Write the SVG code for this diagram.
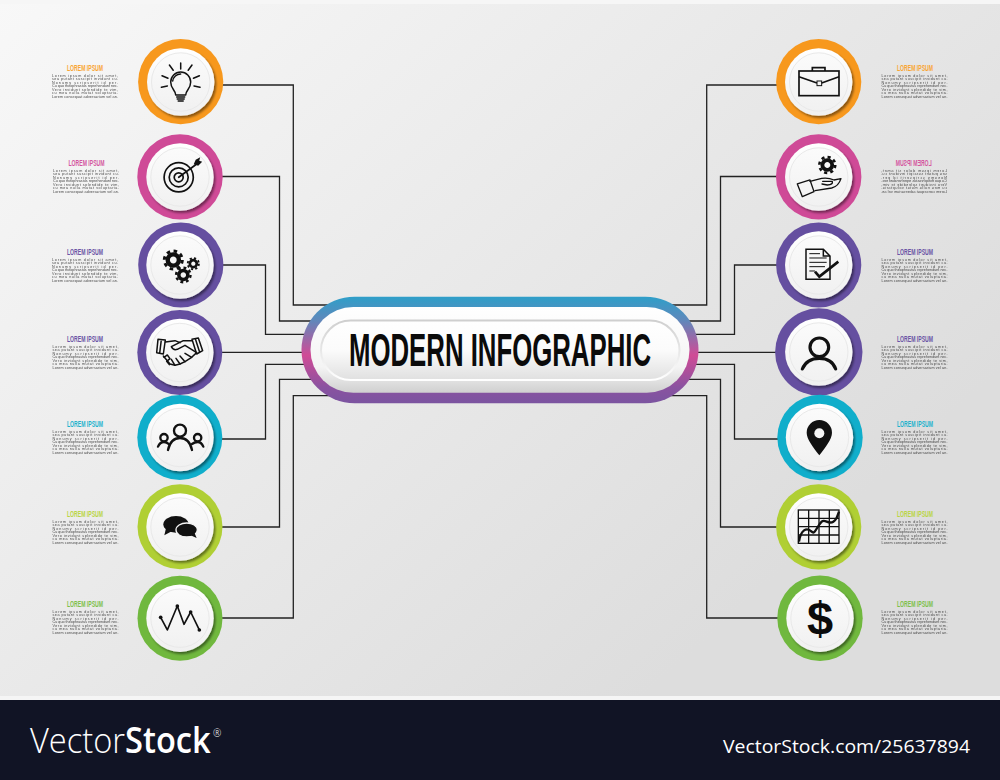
<svg xmlns="http://www.w3.org/2000/svg" width="1000" height="780" viewBox="0 0 1000 780">
<style>
.ln{fill:none;stroke:#222;stroke-width:1.300}
.t{font-family:"Liberation Sans",Arial,sans-serif;font-weight:700;font-size:8.400px}
.b{font-family:"Liberation Sans",Arial,sans-serif;font-size:3.700px;fill:#333;opacity:.92}
.o{fill:#f7981d}.p{fill:#cf4a97}.v{fill:#654fa0}.c{fill:#10aecb}.l{fill:#b0cf34}.g{fill:#70b83e}
.to{fill:#f9a533}.tp{fill:#d4569f}.tv{fill:#6a55a5}.tc{fill:#1eb3cd}.tl{fill:#b9d544}.tg{fill:#7cc04a}
.disk{fill:url(#disk);filter:url(#sh)}
.ring{fill:url(#face);stroke:#e9e9e9;stroke-width:1}
.i{fill:none;stroke:#111;stroke-width:4.500;stroke-linecap:round;stroke-linejoin:round}
.f{fill:#111;stroke:none}
</style>
<defs>
<linearGradient id="bg" gradientUnits="userSpaceOnUse" x1="0" y1="0" x2="640" y2="700"><stop offset="0" stop-color="#f8f8f8"/><stop offset="1" stop-color="#dddddd"/></linearGradient>
<linearGradient id="disk" x1="0" y1="0" x2="0" y2="1"><stop offset="0" stop-color="#ffffff"/><stop offset="1" stop-color="#f0f0f0"/></linearGradient>
<linearGradient id="face" x1="0" y1="0" x2="0" y2="1"><stop offset="0" stop-color="#fbfbfb"/><stop offset="1" stop-color="#f1f1f1"/></linearGradient>
<linearGradient id="pill" x1="0" y1="0" x2="0" y2="1"><stop offset="0" stop-color="#2e9fc9"/><stop offset="0.22" stop-color="#5f88bb"/><stop offset="0.55" stop-color="#d04b96"/><stop offset="0.85" stop-color="#8a52a0"/><stop offset="1" stop-color="#7b54a0"/></linearGradient>
<linearGradient id="pw" x1="0" y1="0" x2="0" y2="1"><stop offset="0" stop-color="#ffffff"/><stop offset="0.7" stop-color="#f4f4f4"/><stop offset="1" stop-color="#d0d0d0"/></linearGradient>
<linearGradient id="pi" x1="0" y1="0" x2="0" y2="1"><stop offset="0" stop-color="#ffffff"/><stop offset="0.5" stop-color="#fbfbfb"/><stop offset="1" stop-color="#e0e0e0"/></linearGradient>
<linearGradient id="pr" x1="0" y1="0" x2="0" y2="1"><stop offset="0" stop-color="#cfcfcf"/><stop offset="1" stop-color="#ffffff"/></linearGradient>
<filter id="sh" x="-20%" y="-20%" width="150%" height="150%"><feDropShadow dx="1.800" dy="2.200" stdDeviation="0.900" flood-color="#000" flood-opacity=".45"/></filter>
<g id="gear"><circle r="9" fill="none" stroke="#111" stroke-width="3" stroke-dasharray="3.530 3.540"/><circle r="5.600" fill="none" stroke="#111" stroke-width="4.400"/></g>
</defs>
<rect width="1000" height="700" fill="url(#bg)"/>
<rect width="1000" height="4" fill="#f6f6f6"/>
<rect y="696" width="1000" height="4" fill="#f5f5f5"/>
<rect y="700" width="1000" height="80" fill="#111425"/>

<g id="connectors">
<path class="ln" d="M222 85H293.300V305H330"/>
<path class="ln" d="M222 176.500H279.500V321H315"/>
<path class="ln" d="M222 265H265.500V334.300H310"/>
<path class="ln" d="M222 352.300H305"/>
<path class="ln" d="M222 439H265.500V364.300H310"/>
<path class="ln" d="M222 527H279.500V379.300H315"/>
<path class="ln" d="M222 618H293.300V395.700H330"/>
<path class="ln" d="M778 85H706.700V305H670"/>
<path class="ln" d="M778 176.500H720.500V321H685"/>
<path class="ln" d="M778 265H734.500V334.300H690"/>
<path class="ln" d="M778 352.300H695"/>
<path class="ln" d="M778 439H734.500V364.300H690"/>
<path class="ln" d="M778 527H720.500V379.300H685"/>
<path class="ln" d="M778 618H706.700V395.700H670"/>
</g>

<g id="center">
<rect x="301.500" y="296.700" width="397" height="106.500" rx="53.200" fill="url(#pill)"/>
<rect x="310.500" y="307" width="379" height="85.700" rx="42.800" fill="url(#pw)"/>
<rect x="321" y="320.500" width="358.500" height="59.500" rx="29.700" fill="url(#pi)" stroke="url(#pr)" stroke-width="2"/>
<text x="349" y="366.200" textLength="302" lengthAdjust="spacingAndGlyphs" font-family="'Liberation Sans',Arial,sans-serif" font-weight="700" font-size="45.500" fill="#0b0b0b">MODERN INFOGRAPHIC</text>
</g>

<g id="node-l1">
<circle class="o" cx="180.700" cy="81.700" r="42.600"/><circle class="disk" cx="180.700" cy="82" r="33.700"/><circle class="ring" cx="180.700" cy="82" r="29.200"/>
<g class="i" transform="translate(180.700,82)" style="stroke-width:1.500">
<path d="M-5 13C-5 8-10 7-10 0a10 10 0 1 1 20 0C10 7 5 8 5 13Z"/><path d="M-8 -1a8 8 0 0 1 8-7"/>
<path d="M-4 15H4M-3.500 17H3.500M-2.500 19H2.500M0 -19V-13M-11.300 -17L-7.500 -11.700M11.300 -17L7.500 -11.700M-18.700 -6.300L-12.700 -3.700M18.700 -6.300L12.700 -3.700M-19.300 5.300L-13.300 4M19.300 5.300L13.300 4"/>
</g>
<text class="t to" x="67" y="71" textLength="36" lengthAdjust="spacingAndGlyphs">LOREM IPSUM</text>
<text class="b" y="76.600"><tspan x="52" textLength="66">Lorem ipsum dolor sit amet,</tspan><tspan x="52" dy="3.550" textLength="66">sea putant suscipit invidunt cu.</tspan><tspan x="52" dy="3.550" textLength="66">Nonumy scripserit id per.</tspan><tspan x="52" dy="3.550" textLength="66">Cu quo theophrastus reprehendunt nec.</tspan><tspan x="52" dy="3.550" textLength="66">Vero invidunt splendide te vim,</tspan><tspan x="52" dy="3.550" textLength="66">cu mea nulla mutat voluptaria.</tspan><tspan x="52" dy="3.550" textLength="66">Lorem consequat adversarium vel an.</tspan></text>
</g>

<g id="node-l2">
<circle class="p" cx="180" cy="176.900" r="42.700"/><circle class="disk" cx="180" cy="177" r="33.700"/><circle class="ring" cx="180" cy="177" r="29.200"/>
<g class="i" transform="translate(178.700,177.300)" style="stroke-width:1.700">
<circle r="14.600"/><circle r="9.500"/><circle r="4.500"/><path d="M0 0L17 -12.500"/>
<path class="f" d="M15 -13L17 -17.500L21.500 -20L20.500 -16.500L23.500 -15.500L19.500 -11.500Z"/>
</g>
<text class="t tp" x="68.500" y="166" textLength="36" lengthAdjust="spacingAndGlyphs">LOREM IPSUM</text>
<text class="b" y="171.600"><tspan x="53" textLength="66">Lorem ipsum dolor sit amet,</tspan><tspan x="53" dy="3.550" textLength="66">sea putant suscipit invidunt cu.</tspan><tspan x="53" dy="3.550" textLength="66">Nonumy scripserit id per.</tspan><tspan x="53" dy="3.550" textLength="66">Cu quo theophrastus reprehendunt nec.</tspan><tspan x="53" dy="3.550" textLength="66">Vero invidunt splendide te vim,</tspan><tspan x="53" dy="3.550" textLength="66">cu mea nulla mutat voluptaria.</tspan><tspan x="53" dy="3.550" textLength="66">Lorem consequat adversarium vel an.</tspan></text>
</g>

<g id="node-l3">
<circle class="v" cx="180.800" cy="265" r="42.600"/><circle class="disk" cx="180" cy="265" r="33.700"/><circle class="ring" cx="180" cy="265" r="29.200"/>
<use href="#gear" transform="translate(173.300,260)"/>
<use href="#gear" transform="translate(193.300,263.700) scale(.62)"/>
<use href="#gear" transform="translate(183.300,275) scale(.8)"/>
<text class="t tv" x="67" y="255" textLength="36" lengthAdjust="spacingAndGlyphs">LOREM IPSUM</text>
<text class="b" y="260.600"><tspan x="52" textLength="66">Lorem ipsum dolor sit amet,</tspan><tspan x="52" dy="3.550" textLength="66">sea putant suscipit invidunt cu.</tspan><tspan x="52" dy="3.550" textLength="66">Nonumy scripserit id per.</tspan><tspan x="52" dy="3.550" textLength="66">Cu quo theophrastus reprehendunt nec.</tspan><tspan x="52" dy="3.550" textLength="66">Vero invidunt splendide te vim,</tspan><tspan x="52" dy="3.550" textLength="66">cu mea nulla mutat voluptaria.</tspan><tspan x="52" dy="3.550" textLength="66">Lorem consequat adversarium vel an.</tspan></text>
</g>

<g id="node-l4">
<circle class="v" cx="179.800" cy="352.500" r="42.500"/><circle class="disk" cx="179.800" cy="352.500" r="33.700"/><circle class="ring" cx="179.800" cy="352.500" r="29.200"/>
<g class="i" transform="translate(130,220) scale(.3333)">
<path d="M84 358L106 360L100 402L80 398ZM94 359L89 400M186 358L205 354L218 392L200 402ZM196 356L209 397"/>
<path d="M106 366L135 362L150 368M186 362L160 362L124 380Q130 392 142 388L165 376L200 398L185 412L165 425L150 432L135 436L120 432L100 408"/>
<path d="M165 400L185 412M150 408L165 425M138 415L150 432M124 418L135 436M102 412L112 405L120 416L110 424L118 434"/>
</g>
<text class="t tv" x="67" y="342" textLength="36" lengthAdjust="spacingAndGlyphs">LOREM IPSUM</text>
<text class="b" y="347.600"><tspan x="52.500" textLength="66">Lorem ipsum dolor sit amet,</tspan><tspan x="52.500" dy="3.550" textLength="66">sea putant suscipit invidunt cu.</tspan><tspan x="52.500" dy="3.550" textLength="66">Nonumy scripserit id per.</tspan><tspan x="52.500" dy="3.550" textLength="66">Cu quo theophrastus reprehendunt nec.</tspan><tspan x="52.500" dy="3.550" textLength="66">Vero invidunt splendide te vim,</tspan><tspan x="52.500" dy="3.550" textLength="66">cu mea nulla mutat voluptaria.</tspan><tspan x="52.500" dy="3.550" textLength="66">Lorem consequat adversarium vel an.</tspan></text>
</g>

<g id="node-l5">
<circle class="c" cx="179.800" cy="437.500" r="42.500"/><circle class="disk" cx="180" cy="437.500" r="33.700"/><circle class="ring" cx="180" cy="437.500" r="29.200"/>
<g class="i" transform="translate(130,220) scale(.3333)" style="stroke-width:7">
<circle cx="150" cy="632" r="18"/><path d="M114 690Q122 654 150 654Q178 654 186 690"/>
<circle cx="102" cy="653" r="11"/><path d="M84 680Q90 666 102 666Q110 666 116 672"/>
<circle cx="203" cy="653" r="11"/><path d="M220 680Q214 666 203 666Q194 666 186 672"/>
</g>
<text class="t tc" x="67" y="427" textLength="36" lengthAdjust="spacingAndGlyphs">LOREM IPSUM</text>
<text class="b" y="432.600"><tspan x="52.500" textLength="66">Lorem ipsum dolor sit amet,</tspan><tspan x="52.500" dy="3.550" textLength="66">sea putant suscipit invidunt cu.</tspan><tspan x="52.500" dy="3.550" textLength="66">Nonumy scripserit id per.</tspan><tspan x="52.500" dy="3.550" textLength="66">Cu quo theophrastus reprehendunt nec.</tspan><tspan x="52.500" dy="3.550" textLength="66">Vero invidunt splendide te vim,</tspan><tspan x="52.500" dy="3.550" textLength="66">cu mea nulla mutat voluptaria.</tspan><tspan x="52.500" dy="3.550" textLength="66">Lorem consequat adversarium vel an.</tspan></text>
</g>

<g id="node-l6">
<circle class="l" cx="180" cy="526.800" r="42.500"/><circle class="disk" cx="180" cy="527" r="33.700"/><circle class="ring" cx="180" cy="527" r="29.200"/>
<g transform="translate(130,480) scale(.3333)">
<ellipse class="f" cx="138" cy="133" rx="38" ry="25"/><path class="f" d="M108 145L103 166L128 152Z"/>
<ellipse class="f" cx="170" cy="150" rx="32" ry="21" style="stroke:#f4f4f4;stroke-width:4"/><path class="f" d="M180 165L200 174L192 155Z"/>
</g>
<text class="t tl" x="67" y="517" textLength="36" lengthAdjust="spacingAndGlyphs">LOREM IPSUM</text>
<text class="b" y="522.600"><tspan x="52.500" textLength="66">Lorem ipsum dolor sit amet,</tspan><tspan x="52.500" dy="3.550" textLength="66">sea putant suscipit invidunt cu.</tspan><tspan x="52.500" dy="3.550" textLength="66">Nonumy scripserit id per.</tspan><tspan x="52.500" dy="3.550" textLength="66">Cu quo theophrastus reprehendunt nec.</tspan><tspan x="52.500" dy="3.550" textLength="66">Vero invidunt splendide te vim,</tspan><tspan x="52.500" dy="3.550" textLength="66">cu mea nulla mutat voluptaria.</tspan><tspan x="52.500" dy="3.550" textLength="66">Lorem consequat adversarium vel an.</tspan></text>
</g>

<g id="node-l7">
<circle class="g" cx="180" cy="618.200" r="42.500"/><circle class="disk" cx="180" cy="618.200" r="33.700"/><circle class="ring" cx="180" cy="618.200" r="29.200"/>
<g transform="translate(130,480) scale(.3333)">
<path class="i" d="M92 412L112 450L142 378L162 433L182 396L208 450" style="stroke-width:5"/>
<circle class="f" cx="92" cy="412" r="5.500"/><circle class="f" cx="142" cy="378" r="5.500"/><circle class="f" cx="182" cy="396" r="5.500"/><circle class="f" cx="208" cy="450" r="5.500"/>
</g>
<text class="t tg" x="67" y="607" textLength="36" lengthAdjust="spacingAndGlyphs">LOREM IPSUM</text>
<text class="b" y="612.600"><tspan x="52.500" textLength="66">Lorem ipsum dolor sit amet,</tspan><tspan x="52.500" dy="3.550" textLength="66">sea putant suscipit invidunt cu.</tspan><tspan x="52.500" dy="3.550" textLength="66">Nonumy scripserit id per.</tspan><tspan x="52.500" dy="3.550" textLength="66">Cu quo theophrastus reprehendunt nec.</tspan><tspan x="52.500" dy="3.550" textLength="66">Vero invidunt splendide te vim,</tspan><tspan x="52.500" dy="3.550" textLength="66">cu mea nulla mutat voluptaria.</tspan><tspan x="52.500" dy="3.550" textLength="66">Lorem consequat adversarium vel an.</tspan></text>
</g>

<g id="node-r1">
<circle class="o" cx="818.700" cy="81.700" r="42.600"/><circle class="disk" cx="818.700" cy="82" r="33.700"/><circle class="ring" cx="818.700" cy="82" r="29.200"/>
<g class="i" transform="translate(770,30) scale(.3333)" style="stroke-width:5;stroke-linecap:butt;stroke-linejoin:miter">
<rect x="87" y="123" width="120" height="74"/><path d="M127 123V113H165V123M87 140L141 159M155 159L207 140"/><rect x="141" y="153" width="14" height="14" style="stroke-width:3"/>
</g>
<text class="t to" x="897" y="71" textLength="36" lengthAdjust="spacingAndGlyphs">LOREM IPSUM</text>
<text class="b" y="76.600"><tspan x="881.500" textLength="66">Lorem ipsum dolor sit amet,</tspan><tspan x="881.500" dy="3.550" textLength="66">sea putant suscipit invidunt cu.</tspan><tspan x="881.500" dy="3.550" textLength="66">Nonumy scripserit id per.</tspan><tspan x="881.500" dy="3.550" textLength="66">Cu quo theophrastus reprehendunt nec.</tspan><tspan x="881.500" dy="3.550" textLength="66">Vero invidunt splendide te vim,</tspan><tspan x="881.500" dy="3.550" textLength="66">cu mea nulla mutat voluptaria.</tspan><tspan x="881.500" dy="3.550" textLength="66">Lorem consequat adversarium vel an.</tspan></text>
</g>

<g id="node-r2">
<circle class="p" cx="818.700" cy="176.900" r="42.700"/><circle class="disk" cx="818.700" cy="177" r="33.700"/><circle class="ring" cx="818.700" cy="177" r="29.200"/>
<use href="#gear" transform="translate(827.300,165) scale(.88)"/>
<g class="i" transform="translate(770,30) scale(.3333)" style="stroke-width:4">
<path d="M82 462L120 450L132 485L97 500Z"/>
<path d="M120 454L155 445Q175 442 192 450L213 446Q205 470 185 474L135 482M158 454H187Q190 464 172 465L156 462"/>
</g>
<g transform="translate(1813,0) scale(-1,1)">
<text class="t tp" x="881.300" y="166" textLength="36" lengthAdjust="spacingAndGlyphs">LOREM IPSUM</text>
<text class="b" y="171.600"><tspan x="866" textLength="66">Lorem ipsum dolor sit amet,</tspan><tspan x="866" dy="3.550" textLength="66">sea putant suscipit invidunt cu.</tspan><tspan x="866" dy="3.550" textLength="66">Nonumy scripserit id per.</tspan><tspan x="866" dy="3.550" textLength="66">Cu quo theophrastus reprehendunt nec.</tspan><tspan x="866" dy="3.550" textLength="66">Vero invidunt splendide te vim,</tspan><tspan x="866" dy="3.550" textLength="66">cu mea nulla mutat voluptaria.</tspan><tspan x="866" dy="3.550" textLength="66">Lorem consequat adversarium vel an.</tspan></text>
</g>
</g>

<g id="node-r3">
<circle class="v" cx="818.700" cy="265" r="42.600"/><circle class="disk" cx="818.700" cy="265" r="33.700"/><circle class="ring" cx="818.700" cy="265" r="29.200"/>
<g class="i" transform="translate(770,220) scale(.3333)" style="stroke-linecap:butt;stroke-linejoin:miter">
<path d="M108 88H160L180 108V178H108Z"/><path d="M160 88V108H180"/>
<path d="M118 101H150M118 114H170M118 127H170M118 140H165M118 153H135" style="stroke-width:3"/>
<path d="M135 155L148 170L205 125" style="stroke-width:8"/>
</g>
<text class="t tv" x="897" y="255" textLength="36" lengthAdjust="spacingAndGlyphs">LOREM IPSUM</text>
<text class="b" y="260.600"><tspan x="881.500" textLength="66">Lorem ipsum dolor sit amet,</tspan><tspan x="881.500" dy="3.550" textLength="66">sea putant suscipit invidunt cu.</tspan><tspan x="881.500" dy="3.550" textLength="66">Nonumy scripserit id per.</tspan><tspan x="881.500" dy="3.550" textLength="66">Cu quo theophrastus reprehendunt nec.</tspan><tspan x="881.500" dy="3.550" textLength="66">Vero invidunt splendide te vim,</tspan><tspan x="881.500" dy="3.550" textLength="66">cu mea nulla mutat voluptaria.</tspan><tspan x="881.500" dy="3.550" textLength="66">Lorem consequat adversarium vel an.</tspan></text>
</g>

<g id="node-r4">
<circle class="v" cx="818.800" cy="352" r="43.700"/><circle class="disk" cx="818.800" cy="352" r="33.700"/><circle class="ring" cx="818.800" cy="352" r="29.200"/>
<g class="i" transform="translate(770,220) scale(.3333)" style="stroke-width:9.500">
<circle cx="148" cy="382" r="28"/><path d="M97 447Q110 415 148 415Q186 415 197 447"/>
</g>
<text class="t tv" x="897" y="342" textLength="36" lengthAdjust="spacingAndGlyphs">LOREM IPSUM</text>
<text class="b" y="347.600"><tspan x="881.500" textLength="66">Lorem ipsum dolor sit amet,</tspan><tspan x="881.500" dy="3.550" textLength="66">sea putant suscipit invidunt cu.</tspan><tspan x="881.500" dy="3.550" textLength="66">Nonumy scripserit id per.</tspan><tspan x="881.500" dy="3.550" textLength="66">Cu quo theophrastus reprehendunt nec.</tspan><tspan x="881.500" dy="3.550" textLength="66">Vero invidunt splendide te vim,</tspan><tspan x="881.500" dy="3.550" textLength="66">cu mea nulla mutat voluptaria.</tspan><tspan x="881.500" dy="3.550" textLength="66">Lorem consequat adversarium vel an.</tspan></text>
</g>

<g id="node-r5">
<circle class="c" cx="820" cy="437.500" r="42.700"/><circle class="disk" cx="819.500" cy="437.500" r="33.700"/><circle class="ring" cx="819.500" cy="437.500" r="29.200"/>
<g transform="translate(770,220) scale(.3333)">
<path class="f" d="M148 706C130 682 110 658 110 638A38 38 0 0 1 186 638C186 658 166 682 148 706Z"/>
<circle cx="148" cy="640" r="15" fill="#f4f4f4"/>
</g>
<text class="t tc" x="897" y="427" textLength="36" lengthAdjust="spacingAndGlyphs">LOREM IPSUM</text>
<text class="b" y="432.600"><tspan x="881.500" textLength="66">Lorem ipsum dolor sit amet,</tspan><tspan x="881.500" dy="3.550" textLength="66">sea putant suscipit invidunt cu.</tspan><tspan x="881.500" dy="3.550" textLength="66">Nonumy scripserit id per.</tspan><tspan x="881.500" dy="3.550" textLength="66">Cu quo theophrastus reprehendunt nec.</tspan><tspan x="881.500" dy="3.550" textLength="66">Vero invidunt splendide te vim,</tspan><tspan x="881.500" dy="3.550" textLength="66">cu mea nulla mutat voluptaria.</tspan><tspan x="881.500" dy="3.550" textLength="66">Lorem consequat adversarium vel an.</tspan></text>
</g>

<g id="node-r6">
<circle class="l" cx="818.700" cy="526.800" r="42.600"/><circle class="disk" cx="818.700" cy="527" r="33.700"/><circle class="ring" cx="818.700" cy="527" r="29.200"/>
<g class="i" transform="translate(770,480) scale(.3333)" style="stroke-width:4;stroke-linecap:butt;stroke-linejoin:miter">
<rect x="85" y="90" width="122" height="100"/><path d="M116 90V190M147 90V190M178 90V190M85 115H207M85 140H207M85 165H207"/>
<path d="M87 185C92 150 110 140 125 155C135 165 140 140 155 125C165 115 175 135 190 125C198 120 200 115 207 95" style="stroke-width:7"/>
</g>
<text class="t tl" x="897" y="517" textLength="36" lengthAdjust="spacingAndGlyphs">LOREM IPSUM</text>
<text class="b" y="522.600"><tspan x="881.500" textLength="66">Lorem ipsum dolor sit amet,</tspan><tspan x="881.500" dy="3.550" textLength="66">sea putant suscipit invidunt cu.</tspan><tspan x="881.500" dy="3.550" textLength="66">Nonumy scripserit id per.</tspan><tspan x="881.500" dy="3.550" textLength="66">Cu quo theophrastus reprehendunt nec.</tspan><tspan x="881.500" dy="3.550" textLength="66">Vero invidunt splendide te vim,</tspan><tspan x="881.500" dy="3.550" textLength="66">cu mea nulla mutat voluptaria.</tspan><tspan x="881.500" dy="3.550" textLength="66">Lorem consequat adversarium vel an.</tspan></text>
</g>

<g id="node-r7">
<circle class="g" cx="820" cy="618.200" r="42.700"/><circle class="disk" cx="820" cy="618.200" r="33.700"/><circle class="ring" cx="820" cy="618.200" r="29.200"/>
<text x="820" y="634.500" text-anchor="middle" font-family="'Liberation Sans',Arial,sans-serif" font-weight="700" font-size="47" fill="#0b0b0b">$</text>
<text class="t tg" x="897" y="607" textLength="36" lengthAdjust="spacingAndGlyphs">LOREM IPSUM</text>
<text class="b" y="612.600"><tspan x="881.500" textLength="66">Lorem ipsum dolor sit amet,</tspan><tspan x="881.500" dy="3.550" textLength="66">sea putant suscipit invidunt cu.</tspan><tspan x="881.500" dy="3.550" textLength="66">Nonumy scripserit id per.</tspan><tspan x="881.500" dy="3.550" textLength="66">Cu quo theophrastus reprehendunt nec.</tspan><tspan x="881.500" dy="3.550" textLength="66">Vero invidunt splendide te vim,</tspan><tspan x="881.500" dy="3.550" textLength="66">cu mea nulla mutat voluptaria.</tspan><tspan x="881.500" dy="3.550" textLength="66">Lorem consequat adversarium vel an.</tspan></text>
</g>

<g id="footer" fill="#ffffff" font-family="'Open Sans','Liberation Sans',sans-serif">
<text transform="translate(30,753) scale(.92,1)" font-size="35.500"><tspan font-weight="300">Vector</tspan><tspan font-weight="600">Stock</tspan></text>
<text x="213" y="737" font-size="10" font-weight="300">®</text>
<text x="723" y="752.500" font-size="19" textLength="247" lengthAdjust="spacingAndGlyphs">VectorStock.com/25637894</text>
</g>
</svg>
